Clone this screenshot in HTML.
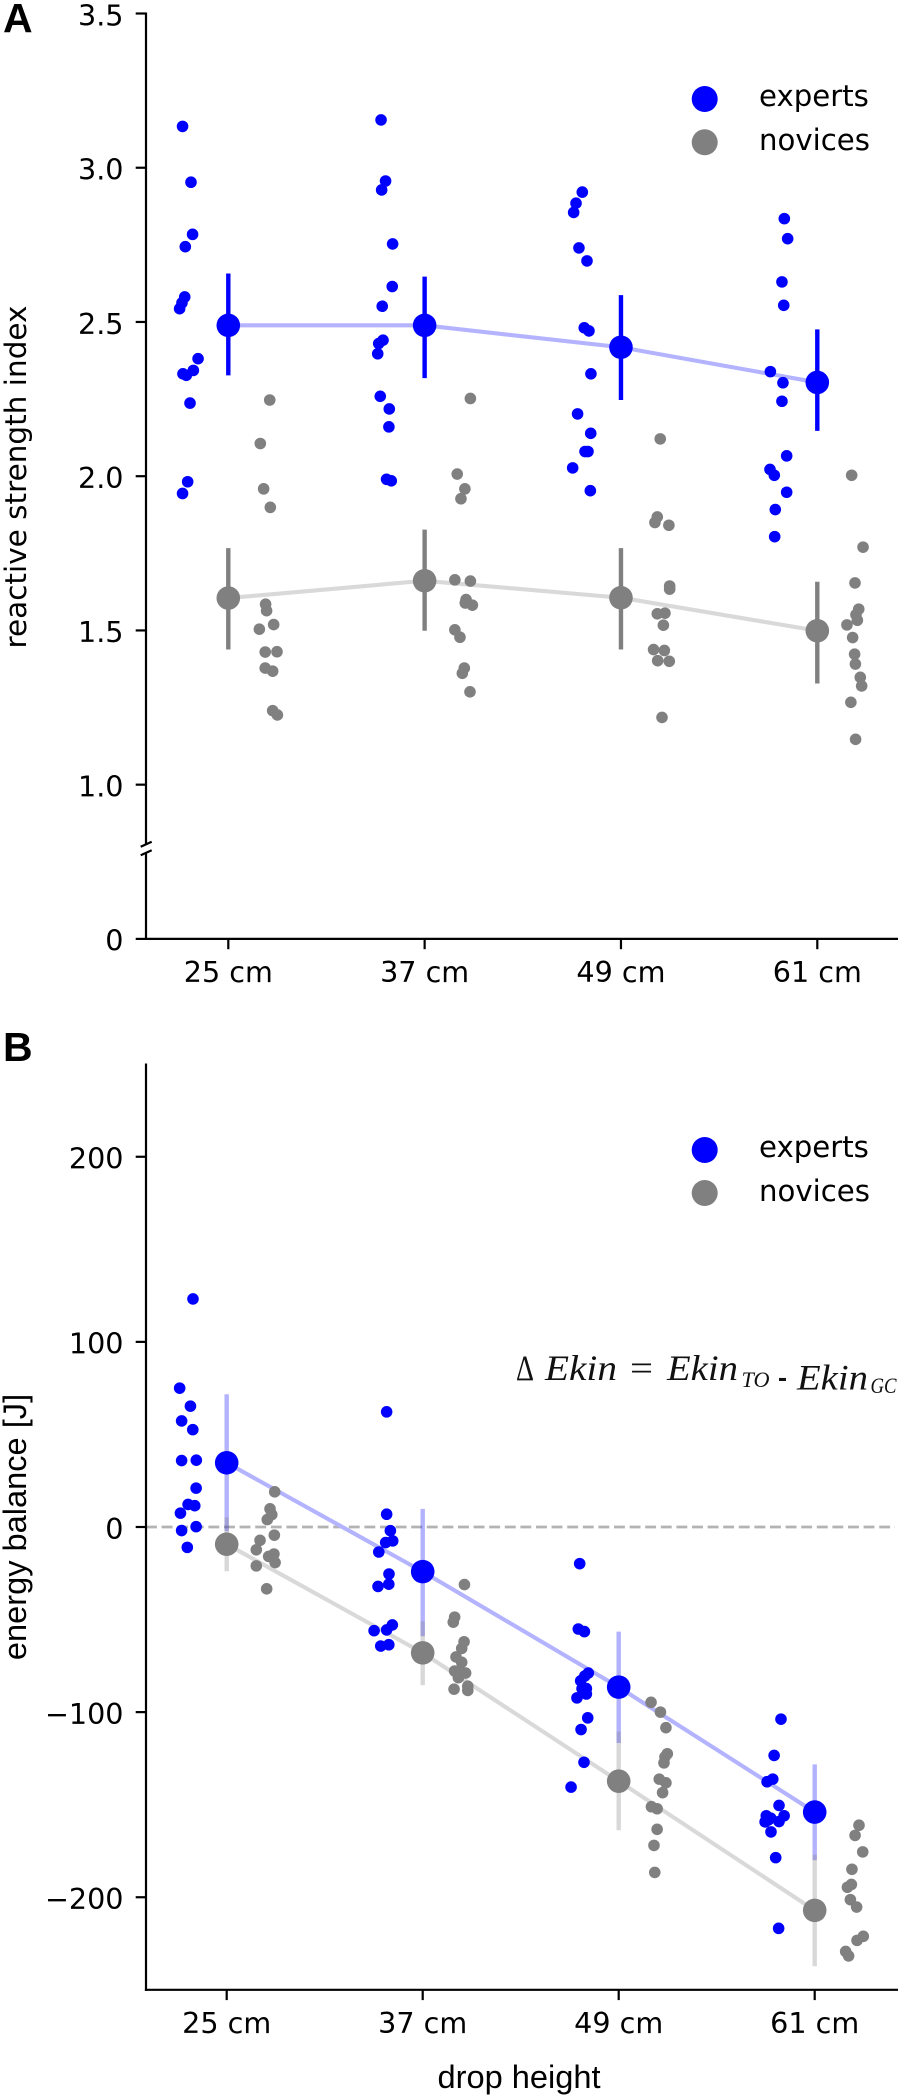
<!DOCTYPE html>
<html lang="en">
<head>
<meta charset="utf-8">
<title>Reactive strength index and energy balance by drop height</title>
<style>
  html, body { margin: 0; padding: 0; background: #fff; }
  body { width: 901px; height: 2098px; overflow: hidden; }
  svg { display: block; }
  text { fill: #000; font-family: "DejaVu Sans", sans-serif; }
  .tick { font-size: 28.6px; }
  .legend { font-size: 29.2px; }
  .panel { font-family: "Liberation Sans", Arial, sans-serif; font-weight: 700; font-size: 41px; }
  .arial-title { font-family: "Liberation Sans", Arial, sans-serif; font-size: 32.6px; }
  .eq { font-family: "Liberation Serif", serif; font-style: italic; font-size: 36px; fill: #111; }
  .eq-up { font-family: "Liberation Serif", serif; font-size: 36px; fill: #111; }
  .eq-sub { font-family: "Liberation Serif", serif; font-style: italic; font-size: 22px; fill: #111; }
</style>
</head>
<body>
<svg id="figure" xmlns="http://www.w3.org/2000/svg" width="901" height="2098" viewBox="0 0 901 2098">
  <rect x="0" y="0" width="901" height="2098" fill="#fff"/>
  <g id="panelA"></g>
  <g id="panelB"></g>

  <text class="panel" x="3" y="32">A</text>
  <text class="panel" x="3" y="1061">B</text>

  <text font-size="29.5" text-anchor="middle" transform="translate(26,477) rotate(-90)">reactive strength index</text>
  <text class="arial-title" text-anchor="middle" transform="translate(26,1527) rotate(-90)">energy balance [J]</text>
  <text class="arial-title" x="519" y="2088" text-anchor="middle">drop height</text>

  <g>
    <g>
      <circle cx="704.7" cy="99" r="13" fill="#0000ff"/>
      <text class="legend" x="759" y="106">experts</text>
    </g>
    <g>
      <circle cx="704.7" cy="142.3" r="13" fill="#808080"/>
      <text class="legend" x="759" y="150">novices</text>
    </g>
  </g>
  <g>
    <g>
      <circle cx="704.7" cy="1150" r="13" fill="#0000ff"/>
      <text class="legend" x="759" y="1157">experts</text>
    </g>
    <g>
      <circle cx="704.7" cy="1193" r="13" fill="#808080"/>
      <text class="legend" x="759" y="1201">novices</text>
    </g>
  </g>

  <g>
    <text class="eq-up" x="516" y="1380" textLength="18" lengthAdjust="spacingAndGlyphs">Δ</text>
    <text class="eq" x="545" y="1380" textLength="72" lengthAdjust="spacingAndGlyphs">Ekin</text>
    <text class="eq-up" x="630" y="1380" textLength="23" lengthAdjust="spacingAndGlyphs">=</text>
    <text class="eq" x="667" y="1380" textLength="71" lengthAdjust="spacingAndGlyphs">Ekin</text>
    <text class="eq-sub" x="741.5" y="1387" textLength="28" lengthAdjust="spacingAndGlyphs">TO</text>
    <text class="eq-up" x="778" y="1388" textLength="9" lengthAdjust="spacingAndGlyphs" font-weight="700">-</text>
    <text class="eq" x="797" y="1389.5" textLength="71" lengthAdjust="spacingAndGlyphs">Ekin</text>
    <text class="eq-sub" x="870.5" y="1393" textLength="26" lengthAdjust="spacingAndGlyphs">GC</text>
  </g>
</svg>

<script>
const categories = ["25 cm", "37 cm", "49 cm", "61 cm"];

// Panel A: reactive strength index
const aTickValues = [0.5, 1, 1.5, 2, 2.5, 3, 3.5];
const aTickLabels = ["0", "1.0", "1.5", "2.0", "2.5", "3.0", "3.5"];
const aExpertsMean = [2.489, 2.489, 2.418, 2.304];
const aExpertsLow = [2.327, 2.318, 2.247, 2.147];
const aExpertsHigh = [2.657, 2.647, 2.587, 2.476];
const aNovicesMean = [1.605, 1.661, 1.606, 1.499];
const aNovicesLow = [1.438, 1.499, 1.438, 1.328];
const aNovicesHigh = [1.767, 1.827, 1.767, 1.658];
const aExpertsValues = [
  [3.134, 2.953, 2.784, 2.744, 2.581, 2.562, 2.543, 2.381, 2.343, 2.332, 2.327, 2.237, 1.982, 1.944],
  [3.155, 2.957, 2.928, 2.753, 2.615, 2.551, 2.441, 2.430, 2.397, 2.259, 2.218, 2.160, 1.990, 1.985],
  [2.921, 2.885, 2.855, 2.740, 2.698, 2.481, 2.471, 2.332, 2.202, 2.139, 2.080, 2.080, 2.027, 1.953],
  [2.835, 2.770, 2.630, 2.554, 2.339, 2.303, 2.243, 2.066, 2.022, 2.003, 1.948, 1.892, 1.804]
];
const aExpertsJitter = [
  [-.233, -.190, -.182, -.219, -.222, -.236, -.248, -.154, -.178, -.231, -.214, -.195, -.207, -.233],
  [-.222, -.199, -.219, -.163, -.165, -.216, -.212, -.234, -.239, -.226, -.180, -.182, -.194, -.170],
  [-.197, -.229, -.241, -.214, -.173, -.187, -.163, -.153, -.221, -.154, -.183, -.168, -.246, -.156],
  [-.168, -.151, -.180, -.171, -.239, -.175, -.180, -.156, -.241, -.219, -.156, -.214, -.217]
];
const aNovicesValues = [
  [2.247, 2.106, 1.959, 1.899, 1.585, 1.564, 1.519, 1.504, 1.430, 1.431, 1.378, 1.368, 1.240, 1.226],
  [2.252, 2.007, 1.959, 1.927, 1.664, 1.660, 1.600, 1.589, 1.582, 1.502, 1.478, 1.378, 1.361, 1.301],
  [2.121, 1.868, 1.850, 1.841, 1.644, 1.634, 1.556, 1.554, 1.517, 1.438, 1.435, 1.402, 1.400, 1.218],
  [2.003, 1.770, 1.654, 1.569, 1.551, 1.533, 1.518, 1.477, 1.423, 1.391, 1.348, 1.320, 1.267, 1.147]
];
const aNovicesJitter = [
  [.211, .163, .180, .214, .190, .195, .231, .158, .188, .248, .188, .226, .226, .250],
  [.233, .166, .205, .185, .154, .233, .211, .207, .243, .154, .180, .202, .192, .231],
  [.200, .185, .173, .244, .248, .248, .224, .185, .216, .166, .221, .187, .246, .209],
  [.175, .233, .192, .211, .197, .204, .151, .180, .190, .194, .219, .226, .171, .195]
];

// Panel B: energy balance
const bTickValues = [-200, -100, 0, 100, 200];
const bTickLabels = ["\u2212200", "\u2212100", "0", "100", "200"];
const bExpertsMean = [34.7, -24.1, -86.5, -154];
const bExpertsLow = [-2.3, -59, -116.7, -180];
const bExpertsHigh = [71.7, 9.8, -56.5, -128.2];
const bNovicesMean = [-9.3, -68, -137.3, -207.1];
const bNovicesLow = [-23.9, -85.4, -163.8, -237.3];
const bNovicesHigh = [5.3, -50.9, -110.5, -177];
const bExpertsValues = [
  [123.2, 75.0, 65.3, 57.3, 52.6, 35.9, 36.1, 21.0, 12.2, 11.5, 7.5, 0.2, -1.9, -11.0],
  [62.2, 6.9, -2.0, -7.5, -8.4, -13.5, -25.4, -30.9, -32.1, -52.9, -55.6, -56.0, -64.3, -63.6],
  [-19.8, -55.1, -56.5, -78.9, -80.5, -83.1, -87.3, -87.3, -90.2, -92.3, -103.1, -109.4, -127.1, -140.5],
  [-103.8, -123.4, -136.2, -137.6, -150.4, -156.0, -156.0, -157.3, -159.3, -159.1, -164.7, -178.6, -216.8, -158.2]
];
const bExpertsJitter = [
  [-.172, -.240, -.185, -.230, -.173, -.230, -.155, -.156, -.197, -.163, -.236, -.156, -.230, -.201],
  [-.184, -.184, -.165, -.153, -.189, -.224, -.172, -.173, -.228, -.155, -.184, -.248, -.214, -.173],
  [-.199, -.206, -.175, -.155, -.173, -.194, -.187, -.165, -.165, -.213, -.158, -.192, -.177, -.243],
  [-.172, -.207, -.214, -.243, -.182, -.156, -.247, -.224, -.253, -.182, -.223, -.199, -.184, -.236]
];
const bNovicesValues = [
  [19.0, 9.8, 6.7, 4.0, -4.4, -7.2, -12.3, -14.6, -15.9, -19.2, -21.0, -33.4],
  [-31.1, -48.7, -51.4, -62.0, -65.6, -70.2, -73.1, -78.9, -77.8, -81.4, -87.6, -86.0, -88.3, -77.8],
  [-94.7, -100.0, -108.4, -122.5, -124.2, -127.4, -136.2, -138.2, -143.5, -151.1, -152.2, -163.3, -172.0, -186.6],
  [-161.1, -166.6, -175.5, -184.9, -193.1, -194.6, -201.3, -205.3, -221.1, -223.3, -229.3, -231.7]
];
const bNovicesJitter = [
  [.245, .221, .230, .207, .243, .170, .151, .241, .214, .247, .151, .204],
  [.213, .163, .156, .211, .199, .170, .199, .219, .163, .182, .160, .230, .230, .190],
  [.165, .213, .241, .248, .236, .231, .207, .241, .224, .167, .196, .196, .180, .184],
  [.226, .206, .245, .190, .187, .167, .182, .214, .248, .216, .158, .173]
];

const SVGNS = "http://www.w3.org/2000/svg";
const INK = "#000";
const AXIS_W = 2.2;

function make(parent, tag, name, props, text) {
  const el = document.createElementNS(SVGNS, tag);
  
  
  for (const k in props) el.setAttribute(k, props[k]);
  if (text !== undefined) el.textContent = text;
  parent.appendChild(el);
  return el;
}
function seg(parent, name, x1, y1, x2, y2, stroke, width, extra) {
  return make(parent, "line", name, Object.assign({ x1, y1, x2, y2, stroke, "stroke-width": width }, extra || {}));
}
function linear(d0, d1, r0, r1) {
  return v => r0 + (v - d0) * (r1 - r0) / (d1 - d0);
}

function drawAxes(g, cfg) {
  const { xs, ys, axisX, axisRight, axisBottom, tickValues, tickLabels, key } = cfg;
  tickValues.forEach((v, i) => {
    const y = ys(v);
    seg(g, key + "-y-tick", axisX - 10.3, y, axisX, y, INK, AXIS_W);
    make(g, "text", key + "-y-tick-label", { class: "tick", x: 123.5, y: y + 11.8, "text-anchor": "end" }, tickLabels[i]);
  });
  categories.forEach((c, i) => {
    const x = xs(i);
    seg(g, key + "-x-tick", x, axisBottom, x, axisBottom + 10.3, INK, AXIS_W);
    make(g, "text", key + "-x-tick-label", { class: "tick", x: x, y: axisBottom + 43.3, "text-anchor": "middle" }, c);
  });
  seg(g, key + "-x-axis-line", axisX - 1.1, axisBottom, axisRight, axisBottom, INK, AXIS_W);
}

function drawSeries(g, cfg) {
  const { xs, ys, mean, low, high, color, lineColor, errColor, name, key } = cfg;
  const pts = mean.map((m, i) => xs(i) + "," + ys(m)).join(" ");
  make(g, "polyline", key + "-" + name + "-mean-line", { points: pts, fill: "none", stroke: lineColor, "stroke-width": 4.1 });
  mean.forEach((m, i) => {
    seg(g, key + "-" + name + "-error-bar-" + i, xs(i), ys(low[i]), xs(i), ys(high[i]), errColor, 4.4,
        errColor === color ? {} : { "stroke-opacity": 0.3 });
  });
}
function drawScatter(g, cfg) {
  const { xs, ys, values, jitter, color, name, key } = cfg;
  values.forEach((row, c) => {
    row.forEach((v, i) => {
      make(g, "circle", key + "-" + name + "-point", { cx: xs(c + jitter[c][i]), cy: ys(v), r: 5.8, fill: color });
    });
  });
}
function drawMeans(g, cfg) {
  const { xs, ys, mean, color, name, key } = cfg;
  mean.forEach((m, i) => {
    make(g, "circle", key + "-" + name + "-mean-marker", { cx: xs(i), cy: ys(m), r: 11.8, fill: color });
  });
}

// Panel A
(function () {
  const g = document.getElementById("panelA");
  const xs = linear(0, 3, 228.3, 817.3);
  const ys = linear(0.5, 3.5, 938.9, 13.5);
  const exp = { xs, ys, key: "panel-a", name: "experts", mean: aExpertsMean, low: aExpertsLow, high: aExpertsHigh,
    values: aExpertsValues, jitter: aExpertsJitter, color: "#0000ff", lineColor: "#b3b3ff", errColor: "#0000ff" };
  const nov = { xs, ys, key: "panel-a", name: "novices", mean: aNovicesMean, low: aNovicesLow, high: aNovicesHigh,
    values: aNovicesValues, jitter: aNovicesJitter, color: "#808080", lineColor: "#d9d9d9", errColor: "#808080" };
  drawSeries(g, exp); drawSeries(g, nov);
  drawScatter(g, exp); drawScatter(g, nov);
  drawMeans(g, exp); drawMeans(g, nov);
  seg(g, "panel-a-y-axis-line-upper", 146, 12.5, 146, 844, INK, AXIS_W);
  seg(g, "panel-a-y-axis-line-lower", 146, 853, 146, 940, INK, AXIS_W);
  seg(g, "panel-a-axis-break-mark-upper", 140.7, 846.7, 151.7, 841.7, INK, AXIS_W);
  seg(g, "panel-a-axis-break-mark-lower", 140.7, 855.3, 151.7, 850.3, INK, AXIS_W);
  drawAxes(g, { xs, ys, axisX: 146, axisRight: 898, axisBottom: 938.9, tickValues: aTickValues, tickLabels: aTickLabels, key: "panel-a" });
})();

// Panel B
(function () {
  const g = document.getElementById("panelB");
  const xs = linear(0, 3, 226.7, 814.7);
  const ys = linear(-250, 250, 1989.8, 1064.2);
  const exp = { xs, ys, key: "panel-b", name: "experts", mean: bExpertsMean, low: bExpertsLow, high: bExpertsHigh,
    values: bExpertsValues, jitter: bExpertsJitter, color: "#0000ff", lineColor: "#b3b3ff", errColor: "#0000fe" };
  const nov = { xs, ys, key: "panel-b", name: "novices", mean: bNovicesMean, low: bNovicesLow, high: bNovicesHigh,
    values: bNovicesValues, jitter: bNovicesJitter, color: "#808080", lineColor: "#d9d9d9", errColor: "#7f7f7f" };
  seg(g, "zero-reference-line", 146, ys(0), 895, ys(0), "#b3b3b3", 2.8, { "stroke-dasharray": "10.9 4.7" });
  drawSeries(g, exp); drawSeries(g, nov);
  drawScatter(g, exp); drawScatter(g, nov);
  drawMeans(g, exp); drawMeans(g, nov);
  seg(g, "panel-b-y-axis-line", 146, 1063.5, 146, 1990.9, INK, AXIS_W);
  drawAxes(g, { xs, ys, axisX: 146, axisRight: 898, axisBottom: 1989.8, tickValues: bTickValues, tickLabels: bTickLabels, key: "panel-b" });
})();
</script>
</body>
</html>
